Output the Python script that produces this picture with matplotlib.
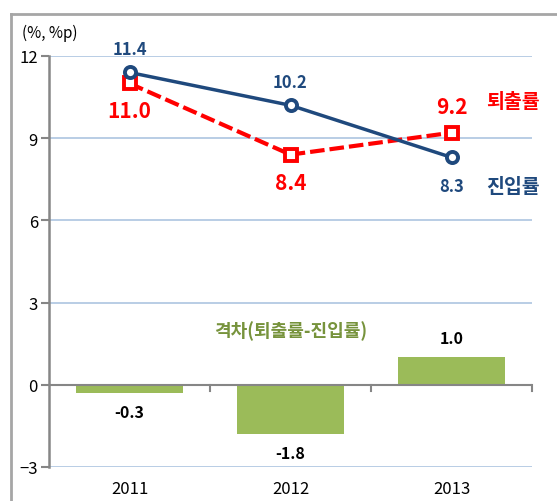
import matplotlib.pyplot as plt
from matplotlib.lines import Line2D

plt.rcParams['font.family'] = ['Noto Sans CJK KR', 'DejaVu Sans']

years = ["2011", "2012", "2013"]
entry_rate = [11.4, 10.2, 8.3]   # 진입률
exit_rate = [11.0, 8.4, 9.2]     # 퇴출률
gap = [-0.3, -1.8, 1.0]          # 격차(퇴출률-진입률)

NAVY = "#1F497D"
RED = "#FF0000"
GREEN_BAR = "#9BBB59"
GREEN_TXT = "#77933C"
GRID = "#B9CDE5"
AXIS = "#868686"

fig = plt.figure(figsize=(5.57, 5.02), dpi=100)
ax = fig.add_axes([49 / 557, 1 - 468 / 502, (532 - 49) / 557, (468 - 57) / 502])

x = list(range(len(years)))

# gap bars
ax.bar(x, gap, width=0.67, color=GREEN_BAR, zorder=2)

# lines
ax.plot(x, exit_rate, color=RED, lw=3, ls=(0, (3.5, 1.2)), marker="s", ms=8,
        mfc="white", mec=RED, mew=2.8, zorder=4)
ax.plot(x, entry_rate, color=NAVY, lw=2.5, marker="o", ms=8,
        mfc="white", mec=NAVY, mew=2.8, zorder=5)

ax.set_xlim(-0.5, 2.5)
ax.set_ylim(-3, 12)
ax.set_yticks([-3, 0, 3, 6, 9, 12])
ax.set_xticks([])

# gridlines (not at 0)
for v in [-3, 3, 6, 9, 12]:
    ax.axhline(v, color=GRID, lw=1.4, zorder=1)
ax.axhline(0, color=AXIS, lw=1.5, zorder=3)
for b in [0.5, 1.5, 2.5]:
    ax.plot([b, b], [0, -0.22], color=AXIS, lw=1.5, clip_on=False, zorder=3)

for s in ["top", "right", "bottom"]:
    ax.spines[s].set_visible(False)
ax.spines["left"].set_color(AXIS)
ax.spines["left"].set_linewidth(1.8)
ax.tick_params(axis="y", length=6, width=1.5, color=AXIS, labelsize=12, pad=2)

# year labels
for i, yr in enumerate(years):
    ax.text(i, -3.8, yr, ha="center", va="center", fontsize=12)

# data labels
blue_off = [0.85, 0.85, -1.05]
for i, v in enumerate(entry_rate):
    ax.text(i, v + blue_off[i], f"{v:.1f}", ha="center", va="center",
            color=NAVY, fontsize=12, fontweight="bold")
red_off = [-1.0, -1.0, 0.95]
for i, v in enumerate(exit_rate):
    ax.text(i, v + red_off[i], f"{v:.1f}", ha="center", va="center",
            color=RED, fontsize=15, fontweight="bold")
bar_off = [-0.7, -0.7, 0.7]
for i, v in enumerate(gap):
    ax.text(i, v + bar_off[i], f"{v:.1f}", ha="center", va="center",
            color="black", fontsize=11.5, fontweight="bold")

# series names
ax.text(2.38, 10.35, "퇴출률", ha="center", va="center", color=RED,
        fontsize=14, fontweight="bold")
ax.text(2.38, 7.25, "진입률", ha="center", va="center", color=NAVY,
        fontsize=14, fontweight="bold")
ax.text(1.0, 2.0, "격차(퇴출률-진입률)", ha="center", va="center", color=GREEN_TXT,
        fontsize=13, fontweight="bold")

fig.text(50 / 557, 1 - 33 / 502, "(%, %p)", ha="center", va="center", fontsize=11)

# outer frame
fig.add_artist(Line2D([11 / 557, 1], [1 - 15 / 502] * 2, color="#A6A6A6", lw=2))
fig.add_artist(Line2D([11 / 557] * 2, [0, 1 - 15 / 502], color="#A6A6A6", lw=2))

fig.savefig("out.png", dpi=100)
